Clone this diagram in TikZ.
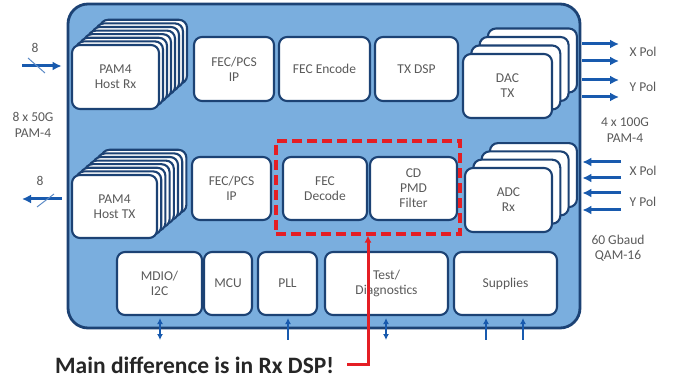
\documentclass[tikz,border=0pt]{standalone}
\usepackage{fontspec}
\setmainfont{Carlito}
\usetikzlibrary{arrows.meta}
\definecolor{chipfill}{RGB}{122,174,222}
\definecolor{dkblue}{RGB}{28,66,116}
\definecolor{sigblue}{RGB}{24,90,174}
\definecolor{txtgray}{RGB}{90,90,90}
\definecolor{hired}{RGB}{228,30,36}
\tikzset{
  chip/.style={draw=dkblue,line width=2.8pt,fill=chipfill,rounded corners=20pt},
  layer/.style={draw=dkblue,line width=2.1pt,fill=white,rounded corners=8pt},
  blk/.style={layer,align=center,text=txtgray,font=\fontsize{13.5}{15}\selectfont,inner sep=0pt},
  lbl/.style={align=center,text=txtgray,font=\fontsize{13.5}{15.5}\selectfont},
  sig/.style={draw=sigblue,line width=3pt,-{Latex[length=9pt,width=9pt]}},
  io/.style={draw=sigblue,line width=1.4pt,{Latex[length=6pt,width=6pt]}-},
  iob/.style={draw=sigblue,line width=1.4pt,{Latex[length=6pt,width=6pt]}-{Latex[length=6pt,width=6pt]}},
  slash/.style={draw=sigblue!70,line width=1pt},
  redbox/.style={draw=hired,line width=3.2pt,dash pattern=on 10pt off 5pt},
  redln/.style={draw=hired,line width=3pt,-{Latex[length=7pt,width=7pt]}}
}
\begin{document}
\begin{tikzpicture}[x=1pt,y=-1pt]
\useasboundingbox (0,0) rectangle (675,382);
% chip outline
\node[chip,minimum width=512pt,minimum height=324pt] (chip) at (324,166) {};
% host side stacks
\foreach \i in {7,6,...,1}
  \draw[layer] ({72+4*\i},{45-3.6*\i}) rectangle ++(87,64);
\node[blk,minimum width=87pt,minimum height=64pt] (hostRx) at (115.5,77) {PAM4\\Host Rx};
\foreach \i in {7,6,...,1}
  \draw[layer] ({72+4.2*\i},{175-3.6*\i}) rectangle ++(85,63);
\node[blk,minimum width=85pt,minimum height=63pt] (hostTx) at (114.5,206.5) {PAM4\\Host TX};
% tx path
\node[blk,minimum width=80pt,minimum height=64pt] (fecTx) at (234,69) {FEC/PCS\\IP};
\node[blk,minimum width=91pt,minimum height=64pt] (fecEnc) at (324.5,69) {FEC Encode};
\node[blk,minimum width=83pt,minimum height=64pt] (txDsp) at (416.5,69) {TX DSP};
\foreach \i in {3,2,1}
  \draw[layer] ({463+8.3*\i},{54-8.5*\i}) rectangle ++(89,64);
\node[blk,minimum width=89pt,minimum height=64pt] (dac) at (507.5,86) {DAC\\TX};
% rx path
\node[blk,minimum width=79pt,minimum height=63pt] (fecRx) at (231.5,188.5) {FEC/PCS\\IP};
\node[blk,minimum width=84pt,minimum height=63pt] (fecDec) at (325,188.5) {FEC\\Decode};
\node[blk,minimum width=87pt,minimum height=63pt] (cdpmd) at (413.5,188.5) {CD\\PMD\\Filter};
\node[redbox,minimum width=184pt,minimum height=93pt] (rxdsp) at (368,187.5) {};
\foreach \i in {3,2,1}
  \draw[layer] ({465+8.3*\i},{168-8.3*\i}) rectangle ++(87,64);
\node[blk,minimum width=87pt,minimum height=64pt] (adc) at (508.5,200) {ADC\\Rx};
% bottom row
\node[blk,minimum width=85pt,minimum height=63pt] (mdio) at (159.5,283.5) {MDIO/\\I2C};
\node[blk,minimum width=48pt,minimum height=63pt] (mcu) at (228,283.5) {MCU};
\node[blk,minimum width=59pt,minimum height=63pt] (pll) at (287.5,283.5) {PLL};
\node[blk,minimum width=123pt,minimum height=63pt] (test) at (386.5,283.5) {Test/\\Diagnostics};
\node[blk,minimum width=103pt,minimum height=63pt] (supply) at (505.5,283.5) {Supplies};
% host lanes
\coordinate (hostIn) at (22,66);
\coordinate (hostOut) at (22,199);
\draw[sig,shorten >=5pt] (hostIn) -- (hostIn -| chip.west);
\draw[sig,shorten <=5pt] (hostOut -| chip.west) -- (hostOut);
\draw[slash] (28,58) -- (45,73);
\draw[slash] (37,207) -- (54,194);
\node[lbl] (nIn) at (35,48) {8};
\node[lbl] (nOut) at (40,181) {8};
\node[lbl] (hostRate) at (33,125) {8 x 50G\\PAM-4};
% line lanes
\foreach \y [count=\n] in {44,61,80,97}{
  \coordinate (lo\n) at (619,\y);
  \draw[sig,shorten <=1pt] (lo\n -| chip.east) -- (lo\n);
}
\foreach \y [count=\n] in {162,178,193,210}{
  \coordinate (li\n) at (621,\y);
  \draw[sig,shorten >=1pt] (li\n) -- (li\n -| chip.east);
}
\node[lbl] (xTx) at (643,52) {X Pol};
\node[lbl] (yTx) at (643,87) {Y Pol};
\node[lbl] (txRate) at (625,130) {4 x 100G\\PAM-4};
\node[lbl] (xRx) at (643,171) {X Pol};
\node[lbl] (yRx) at (643,202) {Y Pol};
\node[lbl] (rxRate) at (618,248) {60 Gbaud\\QAM-16};
% pins below
\coordinate (mdioP) at (160,340);
\coordinate (pllP) at (288,340);
\coordinate (testP) at (386,340);
\coordinate (supA) at (486,340);
\coordinate (supB) at (523,340);
\draw[iob,shorten >=2pt] (mdioP) -- (mdioP |- mdio.south);
\draw[io,shorten <=2pt] (pllP |- pll.south) -- (pllP);
\draw[iob,shorten >=2pt] (testP) -- (testP |- test.south);
\draw[io,shorten <=2pt] (supA |- supply.south) -- (supA);
\draw[io,shorten <=2pt] (supB |- supply.south) -- (supB);
% note
\node[anchor=base west,inner sep=0pt,font=\fontsize{23.5}{26}\selectfont\bfseries,text=black!85] (note) at (55,373) {Main difference is in Rx DSP!};
\draw[redln,shorten <=13pt] (note.east) -| (rxdsp.south);
\end{tikzpicture}
\end{document}
